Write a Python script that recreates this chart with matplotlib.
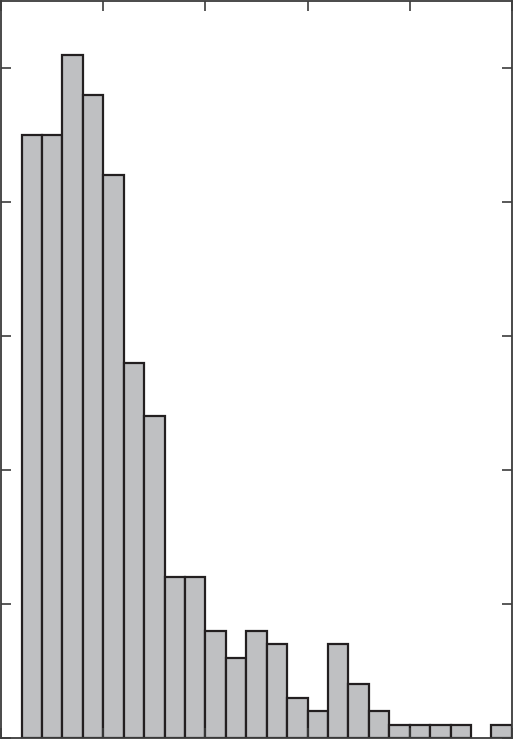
import numpy as np
import matplotlib
matplotlib.use("Agg")
import matplotlib.pyplot as plt

# histogram counts per bin (bin 0 is empty)
counts = [0, 45, 45, 51, 48, 42, 28, 24, 12, 12, 8, 6, 8, 7, 3, 2, 7, 4, 2, 1, 1, 1, 1, 0, 1]
x_ticks = [0, 5, 10, 15, 20, 25]
y_ticks = [0, 10, 20, 30, 40, 50]

FACE = "#bfc0c2"
EDGE = "#231f20"
SPINE = "#3c3c3c"

fig = plt.figure(figsize=(5.13, 7.39), dpi=100)
ax = fig.add_axes([1.2 / 513, 1.0 / 739, 510.6 / 513, 737.0 / 739])

edges = np.arange(len(counts))
for left, h in zip(edges, counts):
    if h > 0:
        ax.bar(left, h, width=1.0, align="edge", color=FACE,
               edgecolor=EDGE, linewidth=1.6)

ax.set_xlim(0, 25)
ax.set_ylim(0, 55)
ax.set_xticks(x_ticks)
ax.set_yticks(y_ticks)
ax.tick_params(direction="in", length=7.5, width=1.2, colors=SPINE,
               top=True, right=True, labelbottom=False, labelleft=False)
for side in ax.spines.values():
    side.set_color(SPINE)
    side.set_linewidth(1.3)

fig.savefig("out.png", dpi=100)
